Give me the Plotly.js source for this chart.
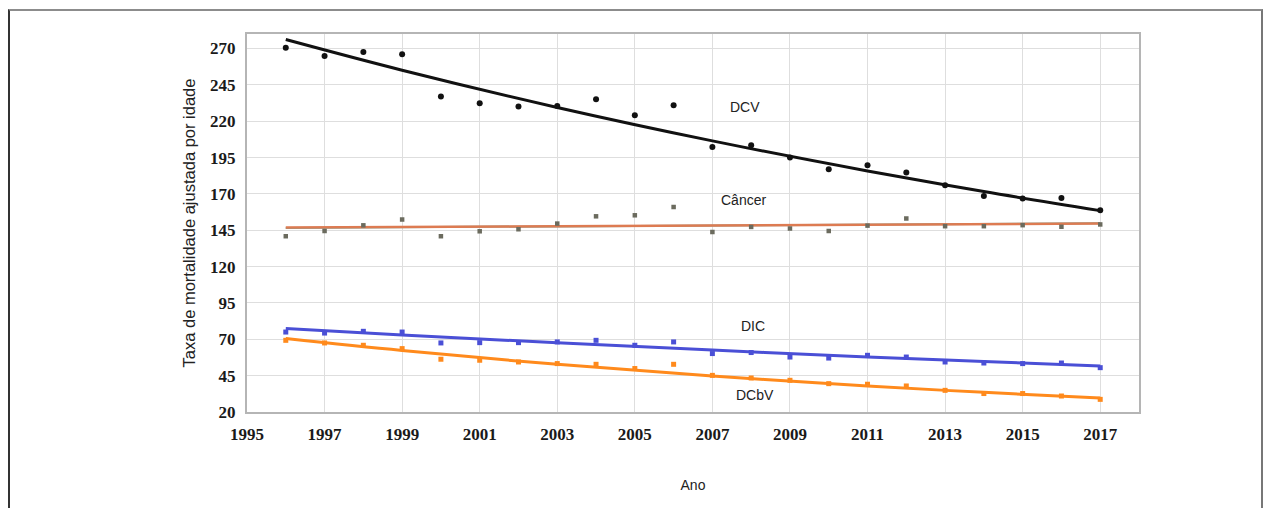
<!DOCTYPE html>
<html>
<head>
<meta charset="utf-8">
<script src="https://cdn.plot.ly/plotly-3.0.1.min.js"></script>
<style>
html,body{margin:0;padding:0;background:#fff;}
#wrap{position:relative;width:1269px;height:508px;}
#chart{position:absolute;left:0;top:0;width:1269px;height:508px;}
#frame{position:absolute;left:8px;top:9px;width:1255px;height:499px;border-top:2px solid #8c8c8c;border-left:2px solid #333;border-right:2px solid #777;box-sizing:border-box;pointer-events:none;}
</style>
</head>
<body>
<div id="wrap"><div id="chart"></div><div id="frame"></div></div>
<script>
// Data
const years = [1996,1997,1998,1999,2000,2001,2002,2003,2004,2005,2006,2007,2008,2009,2010,2011,2012,2013,2014,2015,2016,2017];
const dcv    = [270.5,264.9,267.7,266.1,237.0,232.4,230.1,230.5,235.1,224.1,231.0,202.3,203.5,195.0,187.0,189.7,184.7,176.0,168.6,166.8,167.2,158.8];
const cancer = [140.9,144.5,148.4,152.4,140.9,144.3,145.7,149.6,154.6,155.3,161.0,143.8,147.3,146.2,144.5,148.2,153.1,147.8,147.8,148.5,147.4,149.0];
const dic    = [75.0,74.3,75.5,75.0,67.5,67.7,67.7,68.2,69.3,65.9,68.2,60.2,60.9,57.8,57.1,59.0,57.8,54.4,53.7,53.3,53.7,50.5];
const dcbv   = [69.3,67.5,65.9,63.6,56.3,55.6,54.4,53.3,52.8,49.9,52.8,45.2,43.4,41.8,39.5,39.1,37.9,34.9,32.7,32.7,31.0,28.7];

// Trend lines, values at selected years
const trendYears   = [1996,1999,2003,2007,2011,2014,2017];
const dcvTrend     = [276.2,255.1,229.5,206.5,185.8,171.6,158.5];
const dicTrend     = [77.4,73.0,67.6,62.6,57.9,54.7,51.6];
const dcbvTrend    = [70.5,62.3,52.8,44.8,37.9,33.5,29.6];
const cancerTrendYears = [1996,2017];
const cancerTrendA = [146.9,149.6];
const cancerTrendB = [146.6,149.9];

const yTicks = [20,45,70,95,120,145,170,195,220,245,270];
const xTicks = [1995,1997,1999,2001,2003,2005,2007,2009,2011,2013,2015,2017];

const labels = [
  {text:'DCV', x:2007.85, y:229.6},
  {text:'Câncer', x:2007.8, y:165.6},
  {text:'DIC', x:2008.05, y:79},
  {text:'DCbV', x:2008.1, y:31.5}
];

const traces = [
  {x:trendYears, y:dcvTrend, mode:'lines', line:{color:'#111', width:3, shape:'spline'}},
  {x:cancerTrendYears, y:cancerTrendB, mode:'lines', line:{color:'#6aa9a0', width:2}},
  {x:cancerTrendYears, y:cancerTrendA, mode:'lines', line:{color:'#dd7b52', width:2.5}},
  {x:trendYears, y:dicTrend, mode:'lines', line:{color:'#4a4fd6', width:3, shape:'spline'}},
  {x:trendYears, y:dcbvTrend, mode:'lines', line:{color:'#ff8a1c', width:3, shape:'spline'}},
  {x:years, y:dcv, mode:'markers', marker:{color:'#111', size:6, symbol:'circle'}},
  {x:years, y:cancer, mode:'markers', marker:{color:'#6b6b5e', size:4.5, symbol:'square'}},
  {x:years, y:dic, mode:'markers', marker:{color:'#4a4fd6', size:5, symbol:'square'}},
  {x:years, y:dcbv, mode:'markers', marker:{color:'#ff8a1c', size:5, symbol:'square'}}
];

const tickFont = {family:'Liberation Serif, Times New Roman, serif', size:17, color:'#1a1a1a', weight:'bold'};

const layout = {
  width:1269, height:508,
  margin:{l:247, r:130, t:34, b:96},
  paper_bgcolor:'#fff', plot_bgcolor:'#fff',
  showlegend:false,
  font:{family:'Liberation Sans, Arial, sans-serif', color:'#222'},
  xaxis:{
    range:[1995,2018], tickvals:xTicks, ticktext:xTicks.map(String),
    showgrid:true, gridcolor:'#dedede', gridwidth:1,
    zeroline:false, showline:true, mirror:true, linecolor:'#b5b5b5', linewidth:2,
    ticks:'', ticklen:0, ticklabelstandoff:6,
    tickfont:tickFont,
    title:{text:'Ano', font:{family:'Liberation Sans, Arial, sans-serif', size:14, color:'#222'}, standoff:37}
  },
  yaxis:{
    range:[20,280], tickvals:yTicks, ticktext:yTicks.map(String),
    showgrid:true, gridcolor:'#dedede', gridwidth:1,
    zeroline:false, showline:true, mirror:true, linecolor:'#b5b5b5', linewidth:2,
    ticks:'', ticklen:0, ticklabelstandoff:6,
    tickfont:tickFont,
    title:{text:'Taxa de mortalidade ajustada por idade', font:{family:'Liberation Sans, Arial, sans-serif', size:16.5, color:'#222'}, standoff:10}
  },
  annotations: labels.map(l => ({x:l.x, y:l.y, xref:'x', yref:'y', text:l.text, showarrow:false, font:{family:'Liberation Sans, Arial, sans-serif', size:14, color:'#222'}}))
};

Plotly.newPlot('chart', traces, layout, {displayModeBar:false, staticPlot:true});
</script>
</body>
</html>
